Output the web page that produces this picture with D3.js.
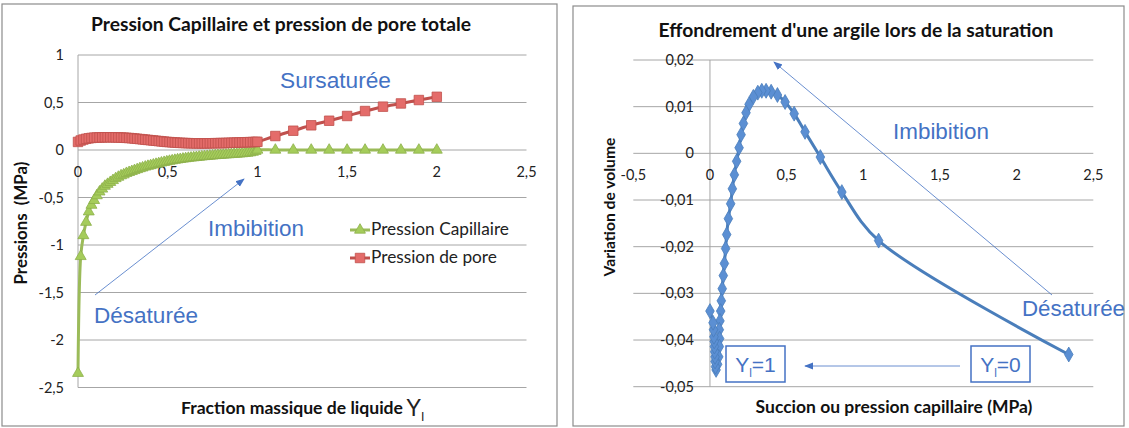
<!DOCTYPE html>
<html><head><meta charset="utf-8">
<script src="https://cdn.jsdelivr.net/npm/d3@7"></script>
<style>body{margin:0;background:#fff} svg{display:block}</style>
</head><body><svg id="c" width="1129" height="428"></svg>
<script>
// ---------- DATA ----------
// Left chart: fraction massique de liquide Yl
const fractionYl = [0,0.015,0.03,0.045,0.06,0.075,0.09,0.105,0.12,0.135,0.15,0.165,0.18,0.195,0.21,0.225,0.24,0.255,0.27,0.285,0.3,0.315,0.33,0.345,0.36,0.375,0.39,0.405,0.42,0.435,0.45,0.465,0.48,0.495,0.51,0.525,0.54,0.555,0.57,0.585,0.6,0.615,0.63,0.645,0.66,0.675,0.69,0.705,0.72,0.735,0.75,0.765,0.78,0.795,0.81,0.825,0.84,0.855,0.87,0.885,0.9,0.915,0.93,0.945,0.96,0.975,0.99,1,1.1,1.2,1.3,1.4,1.5,1.6,1.7,1.8,1.9,2];
const pressionCapillaire = [-2.35,-1.12,-0.9,-0.76,-0.65,-0.58,-0.53,-0.48,-0.44,-0.41,-0.38,-0.36,-0.34,-0.32,-0.3,-0.285,-0.27,-0.26,-0.245,-0.235,-0.225,-0.215,-0.205,-0.195,-0.187,-0.178,-0.17,-0.163,-0.156,-0.149,-0.142,-0.135,-0.129,-0.123,-0.117,-0.112,-0.107,-0.102,-0.098,-0.094,-0.09,-0.086,-0.083,-0.08,-0.077,-0.074,-0.071,-0.068,-0.066,-0.063,-0.061,-0.058,-0.056,-0.054,-0.052,-0.05,-0.048,-0.046,-0.044,-0.042,-0.04,-0.038,-0.035,-0.032,-0.028,-0.022,-0.013,0,0,0,0,0,0,0,0,0,0,0];
const pressionPore = [0.085,0.1,0.11,0.118,0.123,0.127,0.13,0.131,0.132,0.133,0.134,0.134,0.134,0.134,0.133,0.132,0.131,0.13,0.128,0.126,0.124,0.121,0.118,0.115,0.112,0.109,0.106,0.103,0.1,0.097,0.094,0.091,0.088,0.085,0.083,0.081,0.079,0.077,0.075,0.074,0.073,0.072,0.071,0.071,0.07,0.07,0.07,0.07,0.07,0.071,0.071,0.072,0.072,0.073,0.073,0.074,0.075,0.076,0.077,0.078,0.079,0.08,0.081,0.082,0.083,0.084,0.085,0.086,0.147,0.203,0.26,0.308,0.358,0.41,0.456,0.49,0.526,0.56];
const leftXTicks = [0,0.5,1,1.5,2,2.5];
const leftYTicks = [1,0.5,0,-0.5,-1,-1.5,-2,-2.5];
const leftSeriesNames = ["Pression Capillaire","Pression de pore"];

// Right chart: succion vs variation de volume (from Yl=0 to Yl=1)
const succion = [2.34,1.1,0.86,0.72,0.62,0.549,0.49,0.44,0.399,0.366,0.338,0.312,0.283,0.255,0.235,0.218,0.203,0.19,0.174,0.159,0.146,0.135,0.12,0.109,0.102,0.094,0.087,0.08,0.074,0.07,0.065,0.061,0.063,0.061,0.057,0.05,0.04,0.036,0.033,0.033,0.031,0.029,0.028,0.026,0.023,0.02,0];
const variationVolume = [-0.0431,-0.0187,-0.0083,-0.0008,0.0046,0.0085,0.011,0.0125,0.0132,0.0134,0.0134,0.013,0.0121,0.0105,0.0087,0.0064,0.004,0.0012,-0.0017,-0.0046,-0.0076,-0.0108,-0.014,-0.0174,-0.0204,-0.0236,-0.0262,-0.029,-0.0316,-0.0338,-0.0359,-0.0378,-0.0397,-0.0414,-0.0436,-0.0452,-0.0464,-0.0457,-0.0446,-0.0436,-0.0425,-0.0414,-0.0403,-0.0393,-0.0378,-0.0363,-0.0338];
const rightXTicks = [-0.5,0,0.5,1,1.5,2,2.5];
const rightYTicks = [0.02,0.01,0,-0.01,-0.02,-0.03,-0.04,-0.05];

// ---------- DRAW ----------
const svg = d3.select("#c");
const fr = v => String(v).replace(".", ",");
const CAL = "Lato, 'Open Sans', sans-serif";
const ARI = "'Liberation Sans', Arial, sans-serif";
const BLUE = "#4472C4";
const GRID = "#a6a6a6";

function fitText(sel, width) {
  const n = sel.node();
  const fs = parseFloat(sel.attr("font-size"));
  const w = n.getComputedTextLength();
  if (w > 0) sel.attr("font-size", (fs * width / w).toFixed(2));
  return sel;
}

const defs = svg.append("defs");
defs.append("marker").attr("id","arrow").attr("viewBox","0 0 10 10").attr("refX",9).attr("refY",5)
  .attr("markerWidth",9).attr("markerHeight",9).attr("markerUnits","userSpaceOnUse").attr("orient","auto")
  .append("path").attr("d","M0,1 L10,5 L0,9 Z").attr("fill",BLUE);

// Panels
svg.append("rect").attr("x",2).attr("y",4).attr("width",555).attr("height",422).attr("fill","#fff").attr("stroke","#8c8c8c").attr("stroke-width",1.2);
svg.append("rect").attr("x",573).attr("y",6).attr("width",551).attr("height",420).attr("fill","#fff").attr("stroke","#8c8c8c").attr("stroke-width",1.2);

// ===== LEFT CHART =====
const L = svg.append("g");
const lx = d3.scaleLinear().domain([0,2.5]).range([78,526.5]);
const ly = d3.scaleLinear().domain([-2.5,1]).range([387.5,55]);

L.selectAll("line.grid").data(leftYTicks).join("line").attr("class","grid")
  .attr("x1",lx(0)).attr("x2",lx(2.5)).attr("y1",d=>ly(d)).attr("y2",d=>ly(d))
  .attr("stroke",GRID).attr("stroke-width",1);
L.append("line").attr("x1",lx(0)).attr("x2",lx(0)).attr("y1",ly(1)).attr("y2",ly(-2.5)).attr("stroke",GRID);

L.selectAll("text.yt").data(leftYTicks).join("text").attr("class","yt")
  .attr("x",64).attr("y",d=>ly(d)+5).attr("text-anchor","end")
  .attr("font-family",CAL).attr("font-size",14.5).attr("fill","#222").text(fr);
L.selectAll("text.xt").data(leftXTicks).join("text").attr("class","xt")
  .attr("x",d=>lx(d)).attr("y",ly(0)+27).attr("text-anchor","middle")
  .attr("font-family",CAL).attr("font-size",14.5).attr("fill","#222").text(fr);

const capData = fractionYl.map((x,i)=>({x, y: pressionCapillaire[i]}));
const poreData = fractionYl.map((x,i)=>({x, y: pressionPore[i]}));
const lline = d3.line().x(d=>lx(d.x)).y(d=>ly(d.y)).curve(d3.curveCatmullRom.alpha(0.5));

L.append("path").attr("d",lline(capData)).attr("fill","none").attr("stroke","#9BBB59").attr("stroke-width",3);
L.append("path").attr("d",lline(poreData)).attr("fill","none").attr("stroke","#C0504D").attr("stroke-width",3);

const tri = d3.symbol().type(d3.symbolTriangle).size(52);
const sq = d3.symbol().type(d3.symbolSquare).size(90);
L.selectAll("path.cap").data(capData).join("path").attr("class","cap")
  .attr("d",tri).attr("transform",d=>`translate(${lx(d.x)},${ly(d.y)})`)
  .attr("fill","#A5CC5B").attr("stroke","#8DB04A").attr("stroke-width",0.8);
L.selectAll("path.pore").data(poreData).join("path").attr("class","pore")
  .attr("d",sq).attr("transform",d=>`translate(${lx(d.x)},${ly(d.y)})`)
  .attr("fill","#E46C6A").attr("stroke","#C0504D").attr("stroke-width",0.8);

// Legend
const lg = L.append("g");
[["#9BBB59","#A5CC5B","#8DB04A",tri,230],["#C0504D","#E46C6A","#C0504D",sq,258]].forEach((s,i)=>{
  lg.append("line").attr("x1",350).attr("x2",370).attr("y1",s[4]).attr("y2",s[4]).attr("stroke",s[0]).attr("stroke-width",3);
  lg.append("path").attr("d",s[3]).attr("transform",`translate(360,${s[4]})`).attr("fill",s[1]).attr("stroke",s[2]).attr("stroke-width",0.8);
  const t = lg.append("text").attr("x",371).attr("y",s[4]+5).attr("font-family",CAL).attr("font-size",15).attr("fill","#222").text(leftSeriesNames[i]);
  fitText(t, i===0 ? 138 : 126);
});

// Titles
fitText(L.append("text").attr("x",281).attr("y",31).attr("text-anchor","middle").attr("font-family",CAL)
  .attr("font-weight","bold").attr("font-size",15).attr("fill","#111").text("Pression Capillaire et pression de pore totale"),380);
fitText(L.append("text").attr("transform","translate(27,223) rotate(-90)").attr("text-anchor","middle").attr("font-family",CAL)
  .attr("font-weight","bold").attr("font-size",15).attr("fill","#111").attr("xml:space","preserve").text("Pressions  (MPa)"),123);
const xt = L.append("text").attr("x",181).attr("y",414).attr("font-family",CAL).attr("font-weight","bold").attr("font-size",14).attr("fill","#111").text("Fraction massique de liquide");
fitText(xt,222);
const yl = L.append("text").attr("x",406).attr("y",416).attr("font-family",ARI).attr("font-size",23).attr("fill","#222");
yl.append("tspan").text("Y");
yl.append("tspan").attr("dy",5).attr("font-size",13).text("l");

// Annotations
fitText(L.append("text").attr("x",280).attr("y",88).attr("font-family",ARI).attr("font-size",22).attr("fill",BLUE).text("Sursaturée"),111);
fitText(L.append("text").attr("x",208).attr("y",236).attr("font-family",ARI).attr("font-size",22).attr("fill",BLUE).text("Imbibition"),96);
fitText(L.append("text").attr("x",94).attr("y",323).attr("font-family",ARI).attr("font-size",22).attr("fill",BLUE).text("Désaturée"),104);
L.append("line").attr("x1",95).attr("y1",295).attr("x2",244).attr("y2",179).attr("stroke",BLUE).attr("stroke-width",0.8).attr("marker-end","url(#arrow)");

// ===== RIGHT CHART =====
const R = svg.append("g");
const rx = d3.scaleLinear().domain([-0.5,2.5]).range([633.3,1093.3]);
const ry = d3.scaleLinear().domain([-0.05,0.02]).range([386.7,60]);

R.selectAll("line.grid").data(rightYTicks).join("line").attr("class","grid")
  .attr("x1",rx(-0.5)).attr("x2",rx(2.5)).attr("y1",d=>ry(d)).attr("y2",d=>ry(d))
  .attr("stroke",GRID).attr("stroke-width",1);
R.append("line").attr("x1",rx(0)).attr("x2",rx(0)).attr("y1",ry(0.02)).attr("y2",ry(-0.05)).attr("stroke",GRID);

R.selectAll("text.yt").data(rightYTicks).join("text").attr("class","yt")
  .attr("x",rx(0)-16).attr("y",d=>ry(d)+5).attr("text-anchor","end")
  .attr("font-family",CAL).attr("font-size",14.5).attr("fill","#222").text(fr);
R.selectAll("text.xt").data(rightXTicks).join("text").attr("class","xt")
  .attr("x",d=>rx(d)).attr("y",ry(0)+27).attr("text-anchor","middle")
  .attr("font-family",CAL).attr("font-size",14.5).attr("fill","#222").text(fr);

const volData = succion.map((x,i)=>({x, y: variationVolume[i]}));
const rline = d3.line().x(d=>rx(d.x)).y(d=>ry(d.y)).curve(d3.curveCatmullRom.alpha(0.5));
R.append("path").attr("d",rline(volData)).attr("fill","none").attr("stroke","#4A7EBB").attr("stroke-width",3);
const dia = d3.symbol().type(d3.symbolDiamond).size(64);
R.selectAll("path.vol").data(volData).join("path").attr("class","vol")
  .attr("d",dia).attr("transform",d=>`translate(${rx(d.x)},${ry(d.y)})`)
  .attr("fill","#5B8FD3").attr("stroke","#4A7EBB").attr("stroke-width",0.8);

fitText(R.append("text").attr("x",856).attr("y",37).attr("text-anchor","middle").attr("font-family",CAL)
  .attr("font-weight","bold").attr("font-size",15).attr("fill","#111").text("Effondrement d'une argile lors de la saturation"),395);
fitText(R.append("text").attr("transform","translate(615,207) rotate(-90)").attr("text-anchor","middle").attr("font-family",CAL)
  .attr("font-weight","bold").attr("font-size",14).attr("fill","#111").text("Variation de volume"),139);
fitText(R.append("text").attr("x",894).attr("y",413).attr("text-anchor","middle").attr("font-family",CAL)
  .attr("font-weight","bold").attr("font-size",14).attr("fill","#111").text("Succion ou pression capillaire (MPa)"),277);

fitText(R.append("text").attr("x",893).attr("y",139).attr("font-family",ARI).attr("font-size",22).attr("fill",BLUE).text("Imbibition"),96);
fitText(R.append("text").attr("x",1022).attr("y",316).attr("font-family",ARI).attr("font-size",22).attr("fill",BLUE).text("Désaturée"),103);
R.append("line").attr("x1",1052).attr("y1",295).attr("x2",774).attr("y2",62).attr("stroke",BLUE).attr("stroke-width",0.8).attr("marker-end","url(#arrow)");
R.append("line").attr("x1",960).attr("y1",366).attr("x2",805).attr("y2",366).attr("stroke",BLUE).attr("stroke-width",0.8).attr("marker-end","url(#arrow)");

[[726,"1"],[971,"0"]].forEach(b=>{
  R.append("rect").attr("x",b[0]).attr("y",346).attr("width",59).attr("height",36).attr("fill","#fff").attr("stroke",BLUE).attr("stroke-width",1.5);
  const t = R.append("text").attr("x",b[0]+29.5).attr("y",372).attr("text-anchor","middle").attr("font-family",ARI).attr("font-size",21).attr("fill",BLUE);
  t.append("tspan").text("Y");
  t.append("tspan").attr("dy",5).attr("font-size",12).text("l");
  t.append("tspan").attr("dy",-5).text("=" + b[1]);
});
</script>
</body></html>
